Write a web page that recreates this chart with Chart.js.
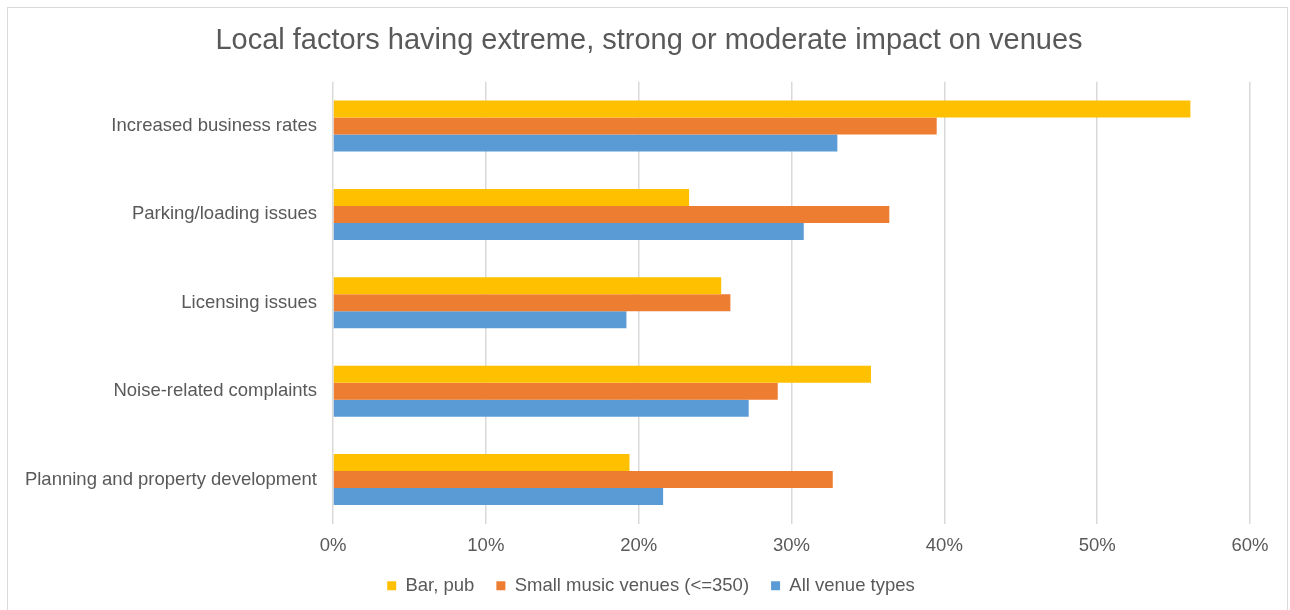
<!DOCTYPE html>
<html>
<head>
<meta charset="utf-8">
<script src="https://cdn.jsdelivr.net/npm/chart.js@4/dist/chart.umd.min.js"></script>
<style>
  html, body { margin: 0; padding: 0; background: #fff; }
  #wrap { position: relative; width: 1290px; height: 610px; overflow: hidden; }
  #frame { position: absolute; left: 7px; top: 7px; width: 1279px; height: 640px; border: 1px solid #d9d9d9; }
  canvas { position: absolute; left: 0; top: 0; }
</style>
</head>
<body>
<div id="wrap">
  <div id="frame"></div>
  <canvas id="chart" width="1290" height="610"></canvas>
</div>
<script>
const categories = [
  'Increased business rates',
  'Parking/loading issues',
  'Licensing issues',
  'Noise-related complaints',
  'Planning and property development'
];
const barPub = [56.1, 23.3, 25.4, 35.2, 19.4];
const smallVenues = [39.5, 36.4, 26.0, 29.1, 32.7];
const allVenues = [33.0, 30.8, 19.2, 27.2, 21.6];
const xTicks = [0, 10, 20, 30, 40, 50, 60];

const textColor = '#595959';
const font = 'Liberation Sans, Arial, sans-serif';

// centre title and legend on the whole frame, not between the paddings
const centreOnFrame = {
  id: 'centreOnFrame',
  afterLayout(chart) {
    chart.titleBlock.left += 26;
    chart.legend.left += 30;
  }
};

new Chart(document.getElementById('chart'), {
  type: 'bar',
  data: {
    labels: categories,
    datasets: [
      { label: 'Bar, pub', data: barPub, backgroundColor: '#FFC000' },
      { label: 'Small music venues (<=350)', data: smallVenues, backgroundColor: '#ED7D31' },
      { label: 'All venue types', data: allVenues, backgroundColor: '#5B9BD5' }
    ]
  },
  options: {
    indexAxis: 'y',
    responsive: false,
    animation: false,
    devicePixelRatio: 1,
    layout: { padding: { left: 22, right: 40, top: 0, bottom: 5 } },
    datasets: { bar: { categoryPercentage: 0.577, barPercentage: 1.0 } },
    scales: {
      x: {
        min: 0,
        max: xTicks[xTicks.length - 1],
        afterBuildTicks: (axis) => { axis.ticks = xTicks.map(v => ({ value: v })); },
        afterFit: (axis) => { axis.height = 30.75; },
        grid: { color: '#d9d9d9', lineWidth: 1.5, drawTicks: false },
        border: { display: false },
        ticks: {
          padding: 13,
          color: textColor,
          font: { family: font, size: 18.5, lineHeight: 1 },
          callback: (v) => v + '%'
        }
      },
      y: {
        afterFit: (axis) => { axis.width = 311; },
        grid: { display: false, drawTicks: false },
        border: { display: false },
        ticks: {
          padding: 16,
          color: textColor,
          font: { family: font, size: 18.5 }
        }
      }
    },
    plugins: {
      title: {
        display: true,
        text: 'Local factors having extreme, strong or moderate impact on venues',
        color: textColor,
        font: { family: font, size: 29, weight: 'normal' },
        padding: { top: 24, bottom: 23 }
      },
      legend: {
        position: 'bottom',
        labels: {
          boxWidth: 9,
          boxHeight: 9,
          padding: 22,
          color: textColor,
          font: { family: font, size: 18.5 }
        }
      },
      tooltip: { enabled: false }
    }
  },
  plugins: [centreOnFrame]
});
</script>
</body>
</html>
